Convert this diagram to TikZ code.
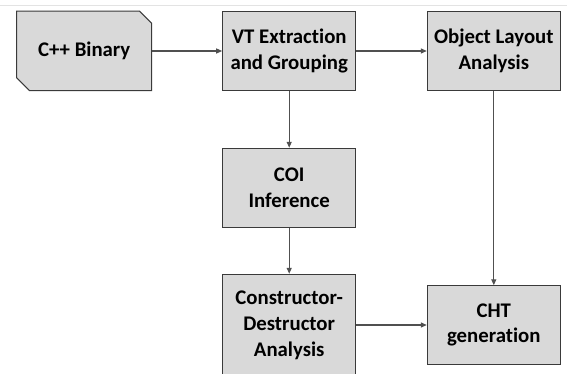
\documentclass[tikz,border=0pt]{standalone}
\usepackage{fontspec}
\setmainfont{Carlito}[Ligatures=NoCommon]
\usetikzlibrary{arrows.meta,backgrounds}
\definecolor{boxfill}{HTML}{D9D9D9}
\definecolor{boxline}{HTML}{3A3A3A}
\definecolor{arrline}{HTML}{505050}
\tikzset{
  procbox/.style={rectangle, draw=boxline, fill=boxfill, line width=1pt,
    minimum width=133pt, minimum height=78.5pt, inner sep=0pt, align=center,
    font=\bfseries\fontsize{20.8}{25.6}\selectfont, text=black},
  plainbox/.style={procbox, draw=none, fill=none},
  flow/.style={draw=arrline, line width=1.2pt, -{Triangle[length=6pt,width=5pt]}}
}
\begin{document}
\begin{tikzpicture}[x=1pt,y=-1pt]
\clip (0,0) rectangle (567,374);
\useasboundingbox (0,0) rectangle (567,374);
\draw[gray!22, line width=1pt] (0,6) -- (567,6);

\node[plainbox, minimum width=134pt] (cpp) at (84.2,51) {C++ Binary};
\begin{pgfonlayer}{background}
\fill[white] (0,0) rectangle (567,374);
\draw[draw=boxline, fill=boxfill, line width=1pt]
  (cpp.north west) -- ([xshift=-12pt]cpp.north east) -- ([yshift=-12pt]cpp.north east)
  -- (cpp.south east) -- ([xshift=13pt]cpp.south west) -- ([yshift=13pt]cpp.south west) -- cycle;
\end{pgfonlayer}

\node[procbox] (vt) at (289.2,51) {VT Extraction\\and Grouping};
\node[procbox] (obj) at (493.8,51) {Object Layout\\Analysis};
\node[procbox, minimum height=79pt] (coi) at (289.2,187.8) {COI\\Inference};
\node[procbox, minimum height=102pt] (cda) at (289.2,325.3) {Constructor-\\Destructor\\Analysis};
\node[procbox] (cht) at (493.8,325) {CHT\\generation};

\draw[flow] (cpp) -- (vt);
\draw[flow] (vt) -- (obj);
\draw[flow] (vt) -- (coi);
\draw[flow] (coi) -- (cda);
\draw[flow] (obj) -- (cht);
\draw[flow] (cda.east |- cht.west) -- (cht.west);
\end{tikzpicture}
\end{document}
